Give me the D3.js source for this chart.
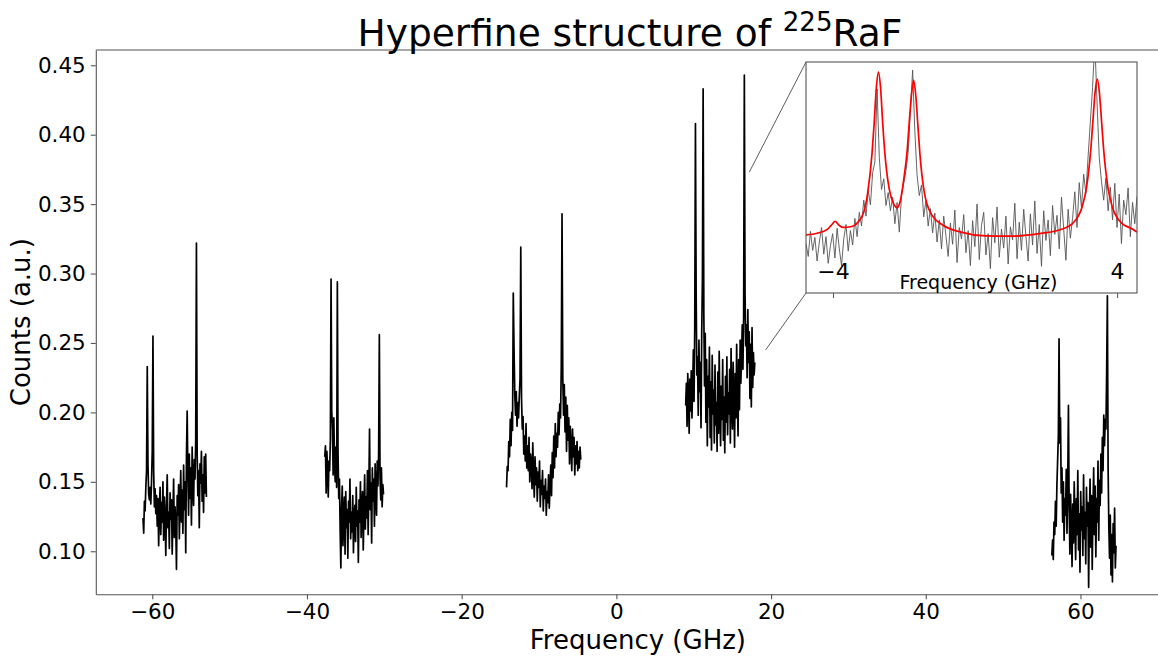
<!DOCTYPE html>
<html>
<head>
<meta charset="utf-8">
<script src="https://cdn.jsdelivr.net/npm/d3@7"></script>
<style>
body { margin: 0; background: #fff; }
text { font-family: "DejaVu Sans", sans-serif; }
</style>
</head>
<body>
<script>
const w = 1158;
const h = 657;

// five frequency scans (GHz), counts
const scanStart = [-61.2, -37.7, -14.2, 8.96, 56.3];
const scanEnd = [-53.0, -30.1, -4.6, 17.9, 64.6];

const scan1 = [0.124, 0.113, 0.136, 0.129, 0.146, 0.158, 0.233, 0.162, 0.141, 0.137,
  0.146, 0.134, 0.150, 0.172, 0.255, 0.158, 0.132, 0.145, 0.127, 0.140,
  0.118, 0.138, 0.104, 0.131, 0.146, 0.112, 0.135, 0.121, 0.150, 0.108,
  0.139, 0.126, 0.097, 0.133, 0.155, 0.117, 0.128, 0.102, 0.142, 0.123,
  0.137, 0.098, 0.127, 0.152, 0.110, 0.132, 0.119, 0.087, 0.140, 0.126,
  0.148, 0.109, 0.135, 0.158, 0.121, 0.144, 0.113, 0.162, 0.130, 0.150,
  0.099, 0.168, 0.201, 0.155, 0.126, 0.170, 0.138, 0.160, 0.119, 0.175,
  0.146, 0.133, 0.166, 0.152, 0.180, 0.322, 0.171, 0.140, 0.158, 0.117,
  0.163, 0.149, 0.172, 0.136, 0.155, 0.128, 0.168, 0.142, 0.170, 0.139];

const scan2 = [0.168, 0.176, 0.142, 0.172, 0.160, 0.139, 0.165, 0.158, 0.180, 0.296,
  0.201, 0.188, 0.155, 0.196, 0.162, 0.150, 0.175, 0.146, 0.294, 0.170,
  0.138, 0.152, 0.115, 0.088, 0.131, 0.147, 0.104, 0.126, 0.139, 0.098,
  0.143, 0.117, 0.130, 0.095, 0.136, 0.121, 0.152, 0.109, 0.128, 0.114,
  0.140, 0.099, 0.125, 0.133, 0.107, 0.146, 0.118, 0.129, 0.092, 0.137,
  0.121, 0.150, 0.110, 0.132, 0.143, 0.101, 0.127, 0.155, 0.116, 0.139,
  0.124, 0.158, 0.112, 0.145, 0.188, 0.130, 0.149, 0.106, 0.160, 0.136,
  0.152, 0.118, 0.163, 0.141, 0.126, 0.165, 0.147, 0.171, 0.256, 0.153,
  0.137, 0.160, 0.132, 0.148, 0.141];

const scan3 = [0.146, 0.161, 0.158, 0.179, 0.168, 0.195, 0.176, 0.200, 0.187, 0.286,
  0.246, 0.213, 0.198, 0.215, 0.190, 0.207, 0.196, 0.211, 0.224, 0.319,
  0.210, 0.188, 0.197, 0.170, 0.183, 0.165, 0.192, 0.160, 0.176, 0.158,
  0.182, 0.150, 0.170, 0.163, 0.145, 0.178, 0.155, 0.139, 0.168, 0.148,
  0.160, 0.136, 0.157, 0.146, 0.165, 0.132, 0.151, 0.141, 0.158, 0.129,
  0.147, 0.138, 0.152, 0.126, 0.143, 0.135, 0.155, 0.131, 0.148, 0.162,
  0.140, 0.171, 0.153, 0.183, 0.160, 0.192, 0.168, 0.185, 0.175, 0.200,
  0.184, 0.206, 0.196, 0.233, 0.343, 0.225, 0.198, 0.220, 0.186, 0.211,
  0.172, 0.205, 0.180, 0.196, 0.163, 0.190, 0.175, 0.158, 0.188, 0.168,
  0.182, 0.155, 0.176, 0.163, 0.179, 0.158, 0.172, 0.160, 0.175, 0.166];

const scan4 = [0.205, 0.221, 0.190, 0.228, 0.212, 0.185, 0.224, 0.201, 0.230, 0.196,
  0.218, 0.245, 0.208, 0.262, 0.408, 0.286, 0.227, 0.240, 0.198, 0.252,
  0.215, 0.236, 0.189, 0.258, 0.297, 0.433, 0.271, 0.219, 0.257, 0.193,
  0.238, 0.176, 0.226, 0.204, 0.247, 0.182, 0.222, 0.173, 0.241, 0.199,
  0.216, 0.178, 0.234, 0.191, 0.207, 0.172, 0.229, 0.185, 0.244, 0.201,
  0.176, 0.219, 0.195, 0.238, 0.180, 0.211, 0.171, 0.226, 0.193, 0.240,
  0.184, 0.214, 0.199, 0.231, 0.178, 0.246, 0.205, 0.188, 0.236, 0.212,
  0.175, 0.228, 0.196, 0.249, 0.209, 0.183, 0.238, 0.202, 0.252, 0.221,
  0.240, 0.263, 0.231, 0.269, 0.443, 0.286, 0.248, 0.263, 0.225, 0.274,
  0.236, 0.258, 0.210, 0.249, 0.204, 0.261, 0.218, 0.243, 0.227, 0.236];

const scan5 = [0.097, 0.108, 0.094, 0.121, 0.112, 0.136, 0.118, 0.147, 0.165, 0.182,
  0.253, 0.178, 0.196, 0.142, 0.160, 0.121, 0.150, 0.108, 0.138, 0.126,
  0.159, 0.113, 0.147, 0.205, 0.132, 0.098, 0.141, 0.117, 0.089, 0.134,
  0.106, 0.150, 0.121, 0.094, 0.138, 0.112, 0.158, 0.101, 0.127, 0.085,
  0.143, 0.115, 0.132, 0.097, 0.155, 0.109, 0.128, 0.091, 0.146, 0.118,
  0.135, 0.074, 0.124, 0.152, 0.103, 0.140, 0.087, 0.131, 0.160, 0.112,
  0.147, 0.096, 0.138, 0.121, 0.165, 0.108, 0.151, 0.133, 0.170, 0.142,
  0.182, 0.158, 0.198, 0.176, 0.195, 0.188, 0.230, 0.284, 0.160, 0.118,
  0.095, 0.126, 0.083, 0.112, 0.078, 0.120, 0.099, 0.131, 0.088, 0.104];

const scans = [scan1, scan2, scan3, scan4, scan5];

const xTicks = [-60, -40, -20, 0, 20, 40, 60];
const yTicks = [0.10, 0.15, 0.20, 0.25, 0.30, 0.35, 0.40, 0.45];

// inset: one scan, relative frequency
const insetStart = -4.76;
const insetEnd = 4.56;
const insetCounts = [0.205, 0.188, 0.221, 0.196, 0.213, 0.182, 0.207, 0.226, 0.191, 0.214,
  0.179, 0.202, 0.218, 0.186, 0.225, 0.198, 0.176, 0.211, 0.230, 0.195,
  0.222, 0.203, 0.238, 0.214, 0.246, 0.228, 0.262, 0.241, 0.275, 0.256,
  0.298, 0.312, 0.408, 0.318, 0.276, 0.290, 0.255, 0.272, 0.248, 0.266,
  0.231, 0.259, 0.220, 0.268, 0.284, 0.301, 0.325, 0.380, 0.433, 0.352,
  0.295, 0.268, 0.282, 0.240, 0.262, 0.228, 0.251, 0.219, 0.245, 0.207,
  0.236, 0.198, 0.241, 0.215, 0.188, 0.232, 0.204, 0.249, 0.180, 0.226,
  0.211, 0.243, 0.193, 0.222, 0.176, 0.235, 0.201, 0.257, 0.184, 0.229,
  0.246, 0.190, 0.218, 0.172, 0.239, 0.206, 0.253, 0.187, 0.224, 0.199,
  0.241, 0.178, 0.227, 0.210, 0.258, 0.185, 0.233, 0.196, 0.250, 0.214,
  0.182, 0.244, 0.203, 0.261, 0.192, 0.230, 0.175, 0.248, 0.209, 0.236,
  0.189, 0.255, 0.217, 0.242, 0.198, 0.266, 0.224, 0.183, 0.250, 0.212,
  0.238, 0.273, 0.226, 0.285, 0.252, 0.296, 0.271, 0.320, 0.365, 0.410,
  0.470, 0.392, 0.318, 0.287, 0.262, 0.291, 0.248, 0.279, 0.236, 0.284,
  0.226, 0.270, 0.205, 0.262, 0.243, 0.278, 0.214, 0.259, 0.231, 0.267];

// fitted curve (red)
const fitFreq = [-4.76, -4.45, -4.15, -4.03, -3.94, -3.85, -3.72, -3.50, -3.30, -3.12,
  -3.02, -2.90, -2.84, -2.78, -2.72, -2.66, -2.60, -2.54, -2.42, -2.30,
  -2.20, -2.10, -2.01, -1.91, -1.85, -1.79, -1.73, -1.67, -1.61, -1.55,
  -1.43, -1.23, -0.90, -0.40, 0.30, 1.00, 1.80, 2.44, 2.78, 3.02,
  3.14, 3.26, 3.32, 3.38, 3.44, 3.50, 3.56, 3.62, 3.74, 3.86,
  4.10, 4.44, 4.56];
const fitCounts = [0.2163, 0.2185, 0.2240, 0.2300, 0.2343, 0.2300, 0.2262, 0.2270, 0.2330, 0.2480,
  0.2724, 0.3238, 0.3632, 0.4093, 0.4303, 0.4093, 0.3632, 0.3238, 0.2776, 0.2580,
  0.2520, 0.2619, 0.2883, 0.3277, 0.3660, 0.4001, 0.4198, 0.4001, 0.3606, 0.3211,
  0.2724, 0.2435, 0.2290, 0.2200, 0.2150, 0.2146, 0.2180, 0.2238, 0.2330, 0.2540,
  0.2790, 0.3290, 0.3672, 0.4040, 0.4211, 0.4040, 0.3672, 0.3290, 0.2790, 0.2540,
  0.2330, 0.2238, 0.2200];
const insetTicks = [-4, 4];

// region shown in the inset (connector end points, data units)
const zoomTop = [17.18, 0.373];
const zoomBottom = [19.30, 0.245];

const padLeft = 95.8, padTop = 50, padBottom = 594.3;

const svg = d3.select("body").append("svg").attr("width", w).attr("height", h);

const xScale = d3.scaleLinear().domain([-67.3, 70.8]).range([padLeft, 1164]);
const yScale = d3.scaleLinear().domain([0.069, 0.461]).range([padBottom, padTop]);

svg.append("clipPath").attr("id", "clip")
  .append("rect").attr("x", padLeft).attr("y", padTop).attr("width", w - padLeft).attr("height", padBottom - padTop);

const line = d3.line().x(d => xScale(d[0])).y(d => yScale(d[1]));

// scans
scans.forEach((counts, k) => {
  const freq = d3.scaleLinear().domain([0, counts.length - 1]).range([scanStart[k], scanEnd[k]]);
  svg.append("path")
    .datum(counts.map((c, i) => [freq(i), c]))
    .attr("clip-path", "url(#clip)")
    .attr("fill", "none")
    .attr("stroke", "#000")
    .attr("stroke-width", 1.7)
    .attr("stroke-linejoin", "round")
    .attr("d", line);
});

// axes
const xAxis = svg.append("g")
  .attr("transform", "translate(0," + padBottom + ")")
  .call(d3.axisBottom(xScale).tickValues(xTicks).tickSize(5).tickSizeOuter(0).tickPadding(4));
const yAxis = svg.append("g")
  .attr("transform", "translate(" + padLeft + ",0)")
  .call(d3.axisLeft(yScale).tickValues(yTicks).tickFormat(d3.format(".2f")).tickSize(5).tickSizeOuter(0).tickPadding(5));

[xAxis, yAxis].forEach(a => {
  a.attr("font-family", null).attr("font-size", 21.5);
  a.select(".domain").attr("stroke", "#555").attr("stroke-width", 1.1);
  a.selectAll(".tick line").attr("stroke", "#555").attr("stroke-width", 1.1);
  a.selectAll("text").attr("fill", "#000");
});

// top spine
svg.append("line")
  .attr("x1", padLeft).attr("x2", w).attr("y1", padTop).attr("y2", padTop)
  .attr("stroke", "#555").attr("stroke-width", 1.1);

// labels
svg.append("text")
  .attr("x", (padLeft + 1164) / 2 + 8)
  .attr("y", 649)
  .attr("text-anchor", "middle")
  .style("font-size", "26px")
  .text("Frequency (GHz)");

svg.append("text")
  .attr("transform", "translate(30," + (padTop + padBottom) / 2 + ") rotate(-90)")
  .attr("text-anchor", "middle")
  .style("font-size", "26px")
  .text("Counts (a.u.)");

const title = svg.append("text")
  .attr("x", (padLeft + 1164) / 2)
  .attr("y", 46)
  .attr("text-anchor", "middle")
  .style("font-size", "37.5px");
title.append("tspan").text("Hyperfine structure of ");
title.append("tspan").attr("dy", -15).style("font-size", "26px").text("225");
title.append("tspan").attr("dy", 15).text("RaF");

// inset
const ix0 = 806, ix1 = 1137, iy0 = 62, iy1 = 293;

svg.append("line")
  .attr("x1", ix0).attr("y1", iy0)
  .attr("x2", xScale(zoomTop[0])).attr("y2", yScale(zoomTop[1]))
  .attr("stroke", "#333").attr("stroke-width", 0.8);
svg.append("line")
  .attr("x1", ix0).attr("y1", iy1)
  .attr("x2", xScale(zoomBottom[0])).attr("y2", yScale(zoomBottom[1]))
  .attr("stroke", "#333").attr("stroke-width", 0.8);

const inset = svg.append("g");
inset.append("rect")
  .attr("x", ix0).attr("y", iy0).attr("width", ix1 - ix0).attr("height", iy1 - iy0)
  .attr("fill", "#fff");

const ixScale = d3.scaleLinear().domain([insetStart, insetEnd]).range([ix0, ix1]);
const iyScale = d3.scaleLinear().domain([0.14, 0.4435]).range([iy1, iy0]);

svg.append("clipPath").attr("id", "iclip")
  .append("rect").attr("x", ix0).attr("y", iy0).attr("width", ix1 - ix0).attr("height", iy1 - iy0);

const iFreq = d3.scaleLinear().domain([0, insetCounts.length - 1]).range([insetStart, insetEnd]);
const iline = d3.line().x(d => ixScale(d[0])).y(d => iyScale(d[1]));

inset.append("path")
  .datum(insetCounts.map((c, i) => [iFreq(i), c]))
  .attr("clip-path", "url(#iclip)")
  .attr("fill", "none")
  .attr("stroke", "#555")
  .attr("stroke-width", 0.9)
  .attr("d", iline);

inset.append("path")
  .datum(fitFreq.map((f, i) => [f, fitCounts[i]]))
  .attr("clip-path", "url(#iclip)")
  .attr("fill", "none")
  .attr("stroke", "red")
  .attr("stroke-width", 1.7)
  .attr("d", iline.curve(d3.curveMonotoneX));

const iAxis = inset.append("g")
  .attr("transform", "translate(0," + iy1 + ")")
  .call(d3.axisBottom(ixScale).tickValues(insetTicks).tickSize(5).tickSizeOuter(0));
iAxis.attr("font-family", null).attr("font-size", 22);
iAxis.select(".domain").remove();
iAxis.selectAll(".tick line").attr("stroke", "#555");
iAxis.selectAll("text").attr("fill", "#000").attr("y", -14).attr("dy", 0);

inset.append("rect")
  .attr("x", ix0).attr("y", iy0).attr("width", ix1 - ix0).attr("height", iy1 - iy0)
  .attr("fill", "none").attr("stroke", "#555").attr("stroke-width", 1.1);

inset.append("text")
  .attr("x", (ix0 + ix1) / 2 + 7)
  .attr("y", 289)
  .attr("text-anchor", "middle")
  .style("font-size", "19px")
  .text("Frequency (GHz)");
</script>
</body>
</html>
